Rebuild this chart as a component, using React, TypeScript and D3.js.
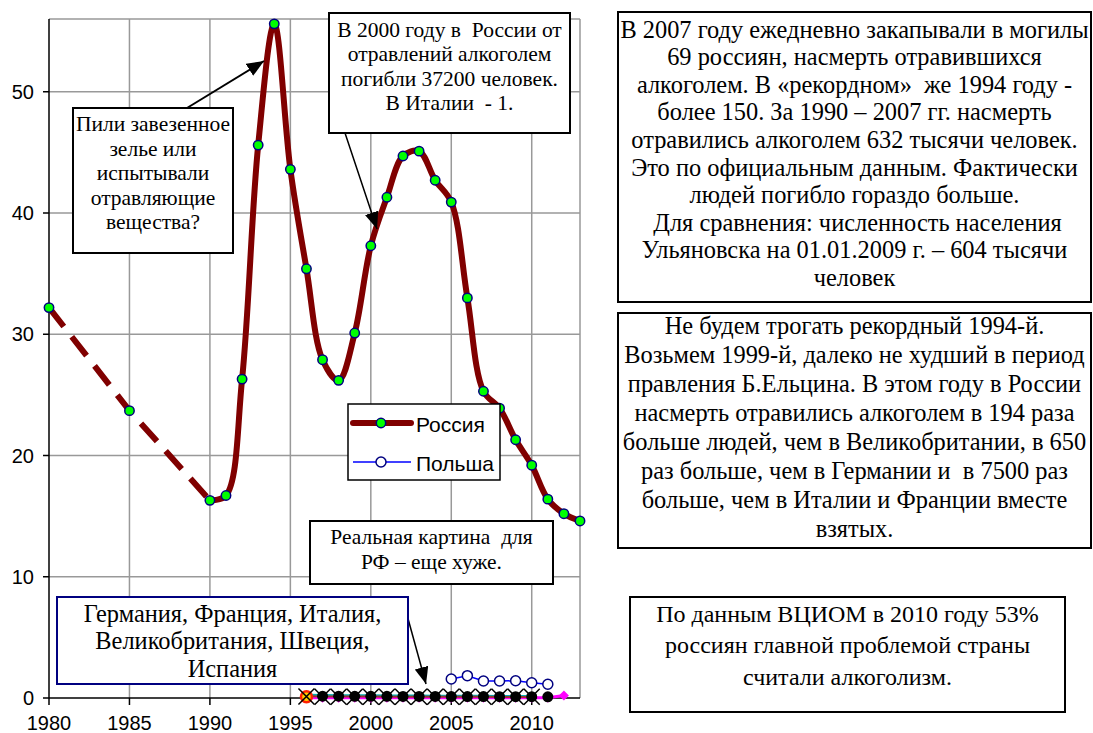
import React from "react";
import * as d3 from "d3";

// Russia, thousand deaths from alcohol poisoning
const russiaYears = [1980, 1985, 1990, 1991, 1992, 1993, 1994, 1995, 1996, 1997, 1998, 1999, 2000, 2001, 2002, 2003, 2004, 2005, 2006, 2007, 2008, 2009, 2010, 2011, 2012, 2013];
const russiaValues = [32.2, 23.7, 16.3, 16.7, 26.3, 45.6, 55.6, 43.6, 35.4, 27.9, 26.2, 30.1, 37.3, 41.3, 44.7, 45.1, 42.7, 40.9, 33.0, 25.3, 23.9, 21.3, 19.2, 16.4, 15.2, 14.6];

const polandYears = [2005, 2006, 2007, 2008, 2009, 2010, 2011];
const polandValues = [1.57, 1.84, 1.4, 1.4, 1.42, 1.26, 1.13];

const euroYears = [1996, 1997, 1998, 1999, 2000, 2001, 2002, 2003, 2004, 2005, 2006, 2007, 2008, 2009, 2010, 2011, 2012];
const spainValues = [0.02, 0.02, 0.02, 0.02, 0.02, 0.02, 0.02, 0.02, 0.02, 0.02, 0.02, 0.02, 0.02, 0.02, 0.02, 0.02, 0.2];
const swedenValues = [0.25, 0.22, 0.2, 0.2, 0.2, 0.18, 0.18, 0.18, 0.17, 0.17, 0.16, 0.16, 0.15, 0.15, 0.15, null, null];
const ukValues = [0.14, 0.13, 0.12, 0.12, 0.12, 0.11, 0.11, 0.11, 0.1, 0.1, 0.1, 0.1, 0.09, 0.09, 0.09, null, null];
const italyValues = [0.1, 0.01, 0.01, 0.01, 0.01, 0.01, 0.01, 0.01, 0.01, 0.01, 0.01, 0.01, 0.01, 0.01, 0.01, null, null];
const franceValues = [0.12, 0.1, 0.1, 0.1, 0.1, 0.1, 0.1, 0.1, 0.1, 0.1, 0.1, 0.1, 0.1, 0.1, 0.1, null, null];
const germanyValues = [null, 0.15, 0.15, 0.14, 0.14, 0.14, 0.13, 0.13, 0.13, 0.12, 0.12, 0.12, 0.11, 0.11, 0.11, 0.1, null];

const xTicks = [1980, 1985, 1990, 1995, 2000, 2005, 2010];
const yTicks = [0, 10, 20, 30, 40, 50];

const legendNames = ["Россия", "Польша"];

const noteRight1 = [
  "В 2007 году ежедневно закапывали в могилы",
  "69 россиян, насмерть отравившихся",
  "алкоголем. В «рекордном»  же 1994 году -",
  "более 150. За 1990 – 2007 гг. насмерть",
  "отравились алкоголем 632 тысячи человек.",
  "Это по официальным данным. Фактически",
  "людей погибло гораздо больше.",
  " Для сравнения: численность населения",
  "Ульяновска на 01.01.2009 г. – 604 тысячи",
  "человек",
];
const noteRight2 = [
  "Не будем трогать рекордный 1994-й.",
  "Возьмем 1999-й, далеко не худший в период",
  "правления Б.Ельцина. В этом году в России",
  "насмерть отравились алкоголем в 194 раза",
  "больше людей, чем в Великобритании, в 650",
  "раз больше, чем в Германии и  в 7500 раз",
  "больше, чем в Италии и Франции вместе",
  "взятых.",
];
const noteRight3 = [
  "По данным ВЦИОМ в 2010 году 53%",
  "россиян главной проблемой страны",
  "считали алкоголизм.",
];
const notePeak = ["Пили завезенное", "зелье или", "испытывали", "отравляющие", "вещества?"];
const note2000 = ["В 2000 году в  России от", "отравлений алкоголем", "погибли 37200 человек.", "В Италии  - 1."];
const noteReal = ["Реальная картина  для", "РФ – еще хуже."];
const noteEurope = ["Германия, Франция, Италия,", "Великобритания, Швеция,", "Испания"];

const serif = "'Liberation Serif', 'Times New Roman', 'DejaVu Serif', serif";
const sans = "'Liberation Sans', Arial, sans-serif";

function TextBox(props: {
  x: number; y: number; w: number; h: number; lines: string[];
  first: number; step: number; size: number; stroke?: string;
}) {
  const { x, y, w, h, lines, first, step, size, stroke } = props;
  return (
    <g>
      <rect x={x} y={y} width={w} height={h} fill="#fff" stroke={stroke || "#000"} strokeWidth={2} />
      {lines.map((l, i) => (
        <text key={i} x={x + w / 2} y={y + first + i * step} textAnchor="middle" dominantBaseline="central"
          style={{ whiteSpace: "pre", fontFamily: serif, fontSize: size }} fill="#000">{l}</text>
      ))}
    </g>
  );
}

export default function App() {
  const width = 1093;
  const height = 733;
  const x = d3.scaleLinear().domain([1980, 2013]).range([49, 580]);
  const y = d3.scaleLinear().domain([0, 56]).range([698, 19]);

  const russia = russiaYears.map((yr, i) => ({ yr, v: russiaValues[i] }));
  const dashedPart = russia.slice(0, 3);
  const solidPart = russia.slice(2);
  const lin = d3.line<any>().x(d => x(d.yr)).y(d => y(d.v));
  const smooth = d3.line<any>().x(d => x(d.yr)).y(d => y(d.v)).curve(d3.curveCatmullRom.alpha(0.5));

  const euroLine = (vals: (number | null)[]) =>
    d3.line<any>().defined(d => d.v != null).x(d => x(d.yr)).y(d => y(d.v))(euroYears.map((yr, i) => ({ yr, v: vals[i] })));
  const pts = (vals: (number | null)[]) =>
    euroYears.map((yr, i) => ({ yr, v: vals[i] })).filter(d => d.v != null) as { yr: number; v: number }[];

  const poland = polandYears.map((yr, i) => ({ yr, v: polandValues[i] }));

  return (
    <svg width={width} height={height} style={{ position: "absolute", left: 0, top: 0, background: "#fff" }}>
      <defs>
        <marker id="arr" markerUnits="userSpaceOnUse" markerWidth={18} markerHeight={14} refX={17} refY={7} orient="auto">
          <path d="M0,0 L17,7 L0,14 z" fill="#000" />
        </marker>
      </defs>
      <rect width={width} height={height} fill="#fff" />

      {/* grid */}
      {xTicks.slice(1).map(t => (
        <line key={"gx" + t} x1={x(t)} x2={x(t)} y1={y(56)} y2={y(0)} stroke="#999" strokeWidth={1.5} />
      ))}
      {yTicks.slice(1).map(t => (
        <line key={"gy" + t} x1={x(1980)} x2={x(2013)} y1={y(t)} y2={y(t)} stroke="#999" strokeWidth={1.5} />
      ))}
      <line x1={x(1980)} x2={x(2013)} y1={y(56)} y2={y(56)} stroke="#999" strokeWidth={1.5} />
      <line x1={x(2013)} x2={x(2013)} y1={y(56)} y2={y(0)} stroke="#999" strokeWidth={1.5} />

      {/* axes */}
      <line x1={x(1980)} x2={x(1980)} y1={y(56)} y2={y(0)} stroke="#000" strokeWidth={1.5} />
      <line x1={x(1980)} x2={x(2013)} y1={y(0)} y2={y(0)} stroke="#000" strokeWidth={1.5} />
      {yTicks.map(t => (
        <g key={"yt" + t}>
          <line x1={x(1980) - 6} x2={x(1980)} y1={y(t)} y2={y(t)} stroke="#000" strokeWidth={1.5} />
          <text x={34} y={y(t)} textAnchor="end" dominantBaseline="central" fontFamily={sans} fontSize={20}>{t}</text>
        </g>
      ))}
      {xTicks.map(t => (
        <g key={"xt" + t}>
          <line x1={x(t)} x2={x(t)} y1={y(0)} y2={y(0) + 7} stroke="#000" strokeWidth={1.5} />
          <text x={x(t)} y={723} textAnchor="middle" dominantBaseline="central" fontFamily={sans} fontSize={20}>{t}</text>
        </g>
      ))}

      {/* European series near zero */}
      <path d={euroLine(spainValues) || ""} fill="none" stroke="#ff00ff" strokeWidth={3} />
      {pts(spainValues).map(d => (
        <path key={"es" + d.yr} d="M0,-5 L5,0 L0,5 L-5,0 z" transform={`translate(${x(d.yr)},${y(d.v)})`} fill="#ff00ff" />
      ))}
      <path d={euroLine(swedenValues) || ""} fill="none" stroke="#00b0b0" strokeWidth={2.5} />
      <path d={euroLine(ukValues) || ""} fill="none" stroke="#993333" strokeWidth={2} />
      {pts(ukValues).map(d => (
        <rect key={"uk" + d.yr} x={x(d.yr) - 3} y={y(d.v) - 3} width={6} height={6} fill="#993333" />
      ))}
      {pts(italyValues).slice(0, 1).map(d => (
        <circle key={"it" + d.yr} cx={x(d.yr)} cy={y(d.v)} r={5.5} fill="#ffcc00" stroke="#ff2200" strokeWidth={2.5} />
      ))}
      {pts(franceValues).map(d => (
        <path key={"fr" + d.yr} d="M-8,-8 L8,8 M-8,8 L8,-8" transform={`translate(${x(d.yr)},${y(d.v)})`}
          fill="none" stroke="#000" strokeWidth={1.5} />
      ))}
      {pts(germanyValues).map(d => (
        <circle key={"de" + d.yr} cx={x(d.yr)} cy={y(d.v)} r={5.5} fill="#000" />
      ))}

      {/* Poland */}
      <path d={lin(poland) || ""} fill="none" stroke="#0000ff" strokeWidth={1.5} />
      {poland.map(d => (
        <circle key={"pl" + d.yr} cx={x(d.yr)} cy={y(d.v)} r={5} fill="#fff" stroke="#000080" strokeWidth={1.5} />
      ))}

      {/* Russia */}
      <path d={lin(dashedPart) || ""} fill="none" stroke="#800000" strokeWidth={6} strokeDasharray="24 13" />
      <path d={smooth(solidPart) || ""} fill="none" stroke="#800000" strokeWidth={6} strokeLinejoin="round" />
      {russia.map(d => (
        <circle key={"ru" + d.yr} cx={x(d.yr)} cy={y(d.v)} r={4.7} fill="#00ff00" stroke="#000080" strokeWidth={1.5} />
      ))}

      {/* legend */}
      <rect x={348} y={404} width={152} height={76} fill="#fff" stroke="#000" strokeWidth={1.5} />
      <line x1={353} x2={411} y1={423} y2={423} stroke="#800000" strokeWidth={6} strokeLinecap="round" />
      <circle cx={381} cy={423} r={4.7} fill="#00ff00" stroke="#000080" strokeWidth={1.5} />
      <text x={416} y={424} dominantBaseline="central" fontFamily={sans} fontSize={21}>{legendNames[0]}</text>
      <line x1={353} x2={411} y1={462} y2={462} stroke="#0000ff" strokeWidth={1.5} />
      <circle cx={381} cy={462} r={5} fill="#fff" stroke="#000080" strokeWidth={1.5} />
      <text x={416} y={463} dominantBaseline="central" fontFamily={sans} fontSize={21}>{legendNames[1]}</text>

      {/* annotations on the chart */}
      <line x1={187} y1={108} x2={264} y2={61} stroke="#000" strokeWidth={2} markerEnd="url(#arr)" />
      <TextBox x={73} y={108} w={160} h={145} lines={notePeak} first={16} step={24.5} size={21.5} />

      <line x1={345} y1={133} x2={377} y2={229} stroke="#000" strokeWidth={1.5} markerEnd="url(#arr)" />
      <TextBox x={329} y={13} w={241} h={120} lines={note2000} first={17} step={24.4} size={21.5} />

      <TextBox x={310} y={521} w={243} h={63} lines={noteReal} first={16} step={25} size={21.5} />

      <line x1={407} y1={615} x2={426} y2={684} stroke="#000" strokeWidth={1.5} markerEnd="url(#arr)" />
      <TextBox x={57} y={597} w={351} h={87} lines={noteEurope} first={16} step={27.5} size={24.4} stroke="#000080" />

      {/* side notes */}
      <TextBox x={618} y={12} w={473} h={290} lines={noteRight1} first={17} step={27.6} size={24.4} />
      <TextBox x={618} y={313} w={473} h={235} lines={noteRight2} first={12.5} step={29} size={24.4} />
      <TextBox x={630} y={597} w={435} h={115} lines={noteRight3} first={16.5} step={31.7} size={24} />
    </svg>
  );
}
